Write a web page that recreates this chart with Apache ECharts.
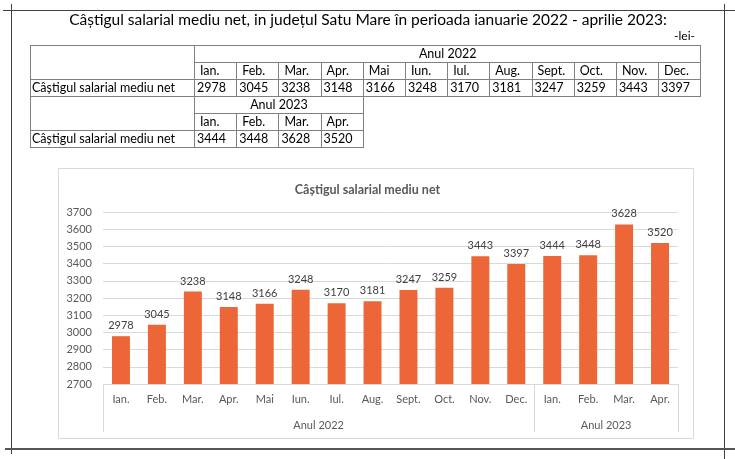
<!DOCTYPE html>
<html>
<head>
<meta charset="utf-8">
<script src="https://cdn.jsdelivr.net/npm/echarts@6/dist/echarts.min.js"></script>
<style>
  html, body { margin: 0; padding: 0; background: #fff; }
  body { width: 735px; height: 459px; position: relative; overflow: hidden; font-family: Lato, "Noto Sans", sans-serif; }
  .ln { position: absolute; background: #404040; }
  #title { position: absolute; left: 11px; width: 714px; top: 9px; text-align: center; font-size: 15.5px; color: #000; line-height: 20px; white-space: nowrap; }
  #lei { position: absolute; left: 660px; top: 28px; width: 35px; text-align: right; font-size: 12px; color: #000; }
  table.t { position: absolute; left: 30px; border-collapse: collapse; font-size: 12.5px; color: #000; table-layout: fixed; }
  table.t td { border: 1px solid #808080; height: 16px; padding: 0 0 0 3px; line-height: 16px; white-space: nowrap; overflow: hidden; }
  table.t td.c { text-align: center; padding: 0; }
  #box { position: absolute; left: 58px; top: 168px; width: 634px; height: 269px; border: 1px solid #d9d9d9; }
  #chart { position: absolute; left: 0; top: 0; width: 735px; height: 459px; }
</style>
</head>
<body>
<div class="ln" style="left:3px;top:10px;width:732px;height:1px;"></div>
<div class="ln" style="left:11px;top:4px;width:1px;height:450px;"></div>
<div class="ln" style="left:724px;top:4px;width:1px;height:455px;"></div>
<div id="box"></div>
<div id="chart"></div>
<div class="ln" style="left:5px;top:448px;width:730px;height:2px;background:#555;"></div>
<div id="title"></div>
<div id="lei"></div>
<table class="t" id="t1" style="top:45px;"></table>
<table class="t" id="t2" style="top:96px;"></table>
<script>
// ---- data ----
const mainTitle = "Câștigul salarial mediu net, in județul Satu Mare în perioada ianuarie 2022 - aprilie 2023:";
const unitLabel = "-lei-";
const rowLabel = "Câștigul salarial mediu net";
const chartTitle = "Câștigul salarial mediu net";
const months2022 = ["Ian.", "Feb.", "Mar.", "Apr.", "Mai", "Iun.", "Iul.", "Aug.", "Sept.", "Oct.", "Nov.", "Dec."];
const values2022 = [2978, 3045, 3238, 3148, 3166, 3248, 3170, 3181, 3247, 3259, 3443, 3397];
const months2023 = ["Ian.", "Feb.", "Mar.", "Apr."];
const values2023 = [3444, 3448, 3628, 3520];
const yearLabels = ["Anul 2022", "Anul 2023"];
const yTicks = { min: 2700, max: 3700, step: 100 };

// ---- text & tables ----
document.getElementById('title').textContent = mainTitle;
document.getElementById('lei').textContent = unitLabel;

function buildTable(el, year, months, values) {
  const colW = 42.2;
  let html = '<colgroup><col style="width:164px">' + months.map(() => '<col style="width:' + colW + 'px">').join('') + '</colgroup>';
  html += '<tr><td rowspan="2"></td><td class="c" colspan="' + months.length + '">' + year + '</td></tr>';
  html += '<tr>' + months.map(m => '<td style="padding-left:5px">' + m + '</td>').join('') + '</tr>';
  html += '<tr><td style="padding-left:1px">' + rowLabel + '</td>' + values.map(v => '<td style="padding-left:2px">' + v + '</td>').join('') + '</tr>';
  el.innerHTML = html;
  el.style.width = (164 + colW * months.length) + 'px';
}
buildTable(document.getElementById('t1'), yearLabels[0], months2022, values2022);
buildTable(document.getElementById('t2'), yearLabels[1], months2023, values2023);

// ---- chart ----
const categories = months2022.concat(months2023);
const values = values2022.concat(values2023);
const groupCounts = [months2022.length, months2023.length];
const bounds = [0];
groupCounts.forEach(c => bounds.push(bounds[bounds.length - 1] + c));
const centers = groupCounts.map((c, i) => bounds[i] + c / 2);

const chart = echarts.init(document.getElementById('chart'), null, { renderer: 'canvas' });
const txt = '#595959';
const font = 'Lato, "Noto Sans", sans-serif';
chart.setOption({
  animation: false,
  textStyle: { fontFamily: font },
  title: {
    text: chartTitle, left: 'center', top: 178,
    textStyle: { fontSize: 12.5, fontWeight: 'bold', color: txt, fontFamily: font }
  },
  grid: { left: 103, right: 57, top: 212, bottom: 75, containLabel: false },
  xAxis: [
    {
      type: 'category', data: categories, position: 'bottom',
      axisLine: { show: true, lineStyle: { color: '#d9d9d9', width: 1 } },
      axisTick: { show: false },
      axisLabel: { color: txt, fontSize: 11, margin: 10, interval: 0, fontFamily: font }
    },
    {
      type: 'value', min: 0, max: bounds[bounds.length - 1], position: 'bottom',
      axisLine: { show: false },
      splitLine: { show: false },
      axisTick: { show: true, customValues: bounds, length: 48, lineStyle: { color: '#d9d9d9', width: 1 } },
      axisLabel: {
        customValues: centers, margin: 36, color: txt, fontSize: 11, fontFamily: font,
        formatter: v => yearLabels[centers.indexOf(v)] || ''
      }
    }
  ],
  yAxis: {
    type: 'value', min: yTicks.min, max: yTicks.max, interval: yTicks.step,
    axisLine: { show: false }, axisTick: { show: false },
    axisLabel: { color: txt, fontSize: 11, margin: 11, fontFamily: font, formatter: v => String(v) },
    splitLine: { lineStyle: { color: '#d9d9d9', width: 1 } }
  },
  series: [{
    type: 'bar', data: values, xAxisIndex: 0, barWidth: '50%',
    itemStyle: { color: '#EC6637' },
    label: { show: true, position: 'top', distance: 5, color: '#404040', fontSize: 11, fontFamily: font }
  }]
});
</script>
</body>
</html>
